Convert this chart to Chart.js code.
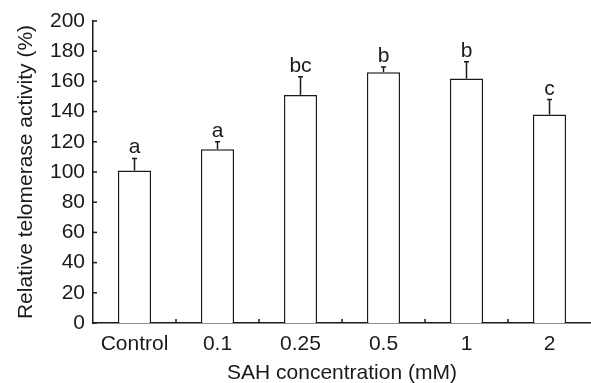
<!DOCTYPE html>
<html>
<head>
<meta charset="utf-8">
<script src="https://cdn.jsdelivr.net/npm/chart.js@4"></script>
<style>
  html, body { margin: 0; padding: 0; background: #fff; }
  #wrap { width: 591px; height: 383px; }
</style>
</head>
<body>
<div id="wrap"><canvas id="chart" width="591" height="383"></canvas></div>
<script>
// values
const categories = ['Control', '0.1', '0.25', '0.5', '1', '2'];
const activity = [101, 115, 151, 166, 162, 138];
const errorUp = [8, 5, 12, 3.5, 11, 10];
const letters = ['a', 'a', 'bc', 'b', 'b', 'c'];
const yTicks = [0, 20, 40, 60, 80, 100, 120, 140, 160, 180, 200];

const INK = '#1a1a1a';
const FONT = "'Liberation Sans', Arial, sans-serif";

// error bars, letters and inward tick marks
const extras = {
  id: 'extras',
  afterDatasetsDraw(chart) {
    const ctx = chart.ctx;
    const x = chart.scales.x, y = chart.scales.y;
    const area = chart.chartArea;
    ctx.save();
    ctx.strokeStyle = INK;
    ctx.lineWidth = 1.5;

    activity.forEach((v, i) => {
      const cx = x.getPixelForValue(i);
      const top = y.getPixelForValue(v + errorUp[i]);
      const base = y.getPixelForValue(v);
      ctx.beginPath();
      ctx.moveTo(cx, base);
      ctx.lineTo(cx, top);
      ctx.moveTo(cx - 2.5, top);
      ctx.lineTo(cx + 2.5, top);
      ctx.stroke();

      ctx.fillStyle = INK;
      ctx.font = '21px ' + FONT;
      ctx.textAlign = 'center';
      ctx.textBaseline = 'alphabetic';
      ctx.fillText(letters[i], cx, top - 5);
    });

    // y ticks pointing into the plot
    yTicks.forEach(t => {
      const py = y.getPixelForValue(t);
      ctx.beginPath();
      ctx.moveTo(area.left, py);
      ctx.lineTo(area.left + 4, py);
      ctx.stroke();
    });

    // x ticks between categories
    for (let i = 1; i < categories.length; i++) {
      const px = (x.getPixelForValue(i - 1) + x.getPixelForValue(i)) / 2;
      ctx.beginPath();
      ctx.moveTo(px, area.bottom);
      ctx.lineTo(px, area.bottom - 4);
      ctx.stroke();
    }
    ctx.restore();
  }
};

new Chart(document.getElementById('chart'), {
  type: 'bar',
  data: {
    labels: categories,
    datasets: [{
      data: activity,
      backgroundColor: '#ffffff',
      borderColor: INK,
      borderWidth: 1.5,
      borderSkipped: 'bottom',
      categoryPercentage: 1,
      barPercentage: 0.4,
    }],
  },
  options: {
    responsive: false,
    animation: false,
    layout: { padding: { top: 21, right: 0, left: 0, bottom: 0 } },
    plugins: {
      legend: { display: false },
      tooltip: { enabled: false },
    },
    scales: {
      x: {
        grid: { display: false, drawTicks: false },
        border: { color: INK, width: 1.5 },
        ticks: { color: INK, font: { size: 21, family: FONT }, padding: 9 },
        title: {
          display: true,
          text: 'SAH concentration (mM)',
          color: INK,
          font: { size: 21, family: FONT },
          padding: { top: 6, bottom: -3 },
        },
        afterFit: s => { s.height = 60; },
      },
      y: {
        min: 0,
        max: 200,
        grid: { display: false, drawTicks: false },
        border: { color: INK, width: 1.5 },
        ticks: { stepSize: 20, color: INK, font: { size: 21, family: FONT }, padding: 8 },
        title: {
          display: true,
          text: 'Relative telomerase activity (%)',
          color: INK,
          font: { size: 21, family: FONT },
          padding: { top: 14, bottom: 4 },
        },
        afterFit: s => { s.width = 93; },
      },
    },
  },
  plugins: [extras],
});
</script>
</body>
</html>
